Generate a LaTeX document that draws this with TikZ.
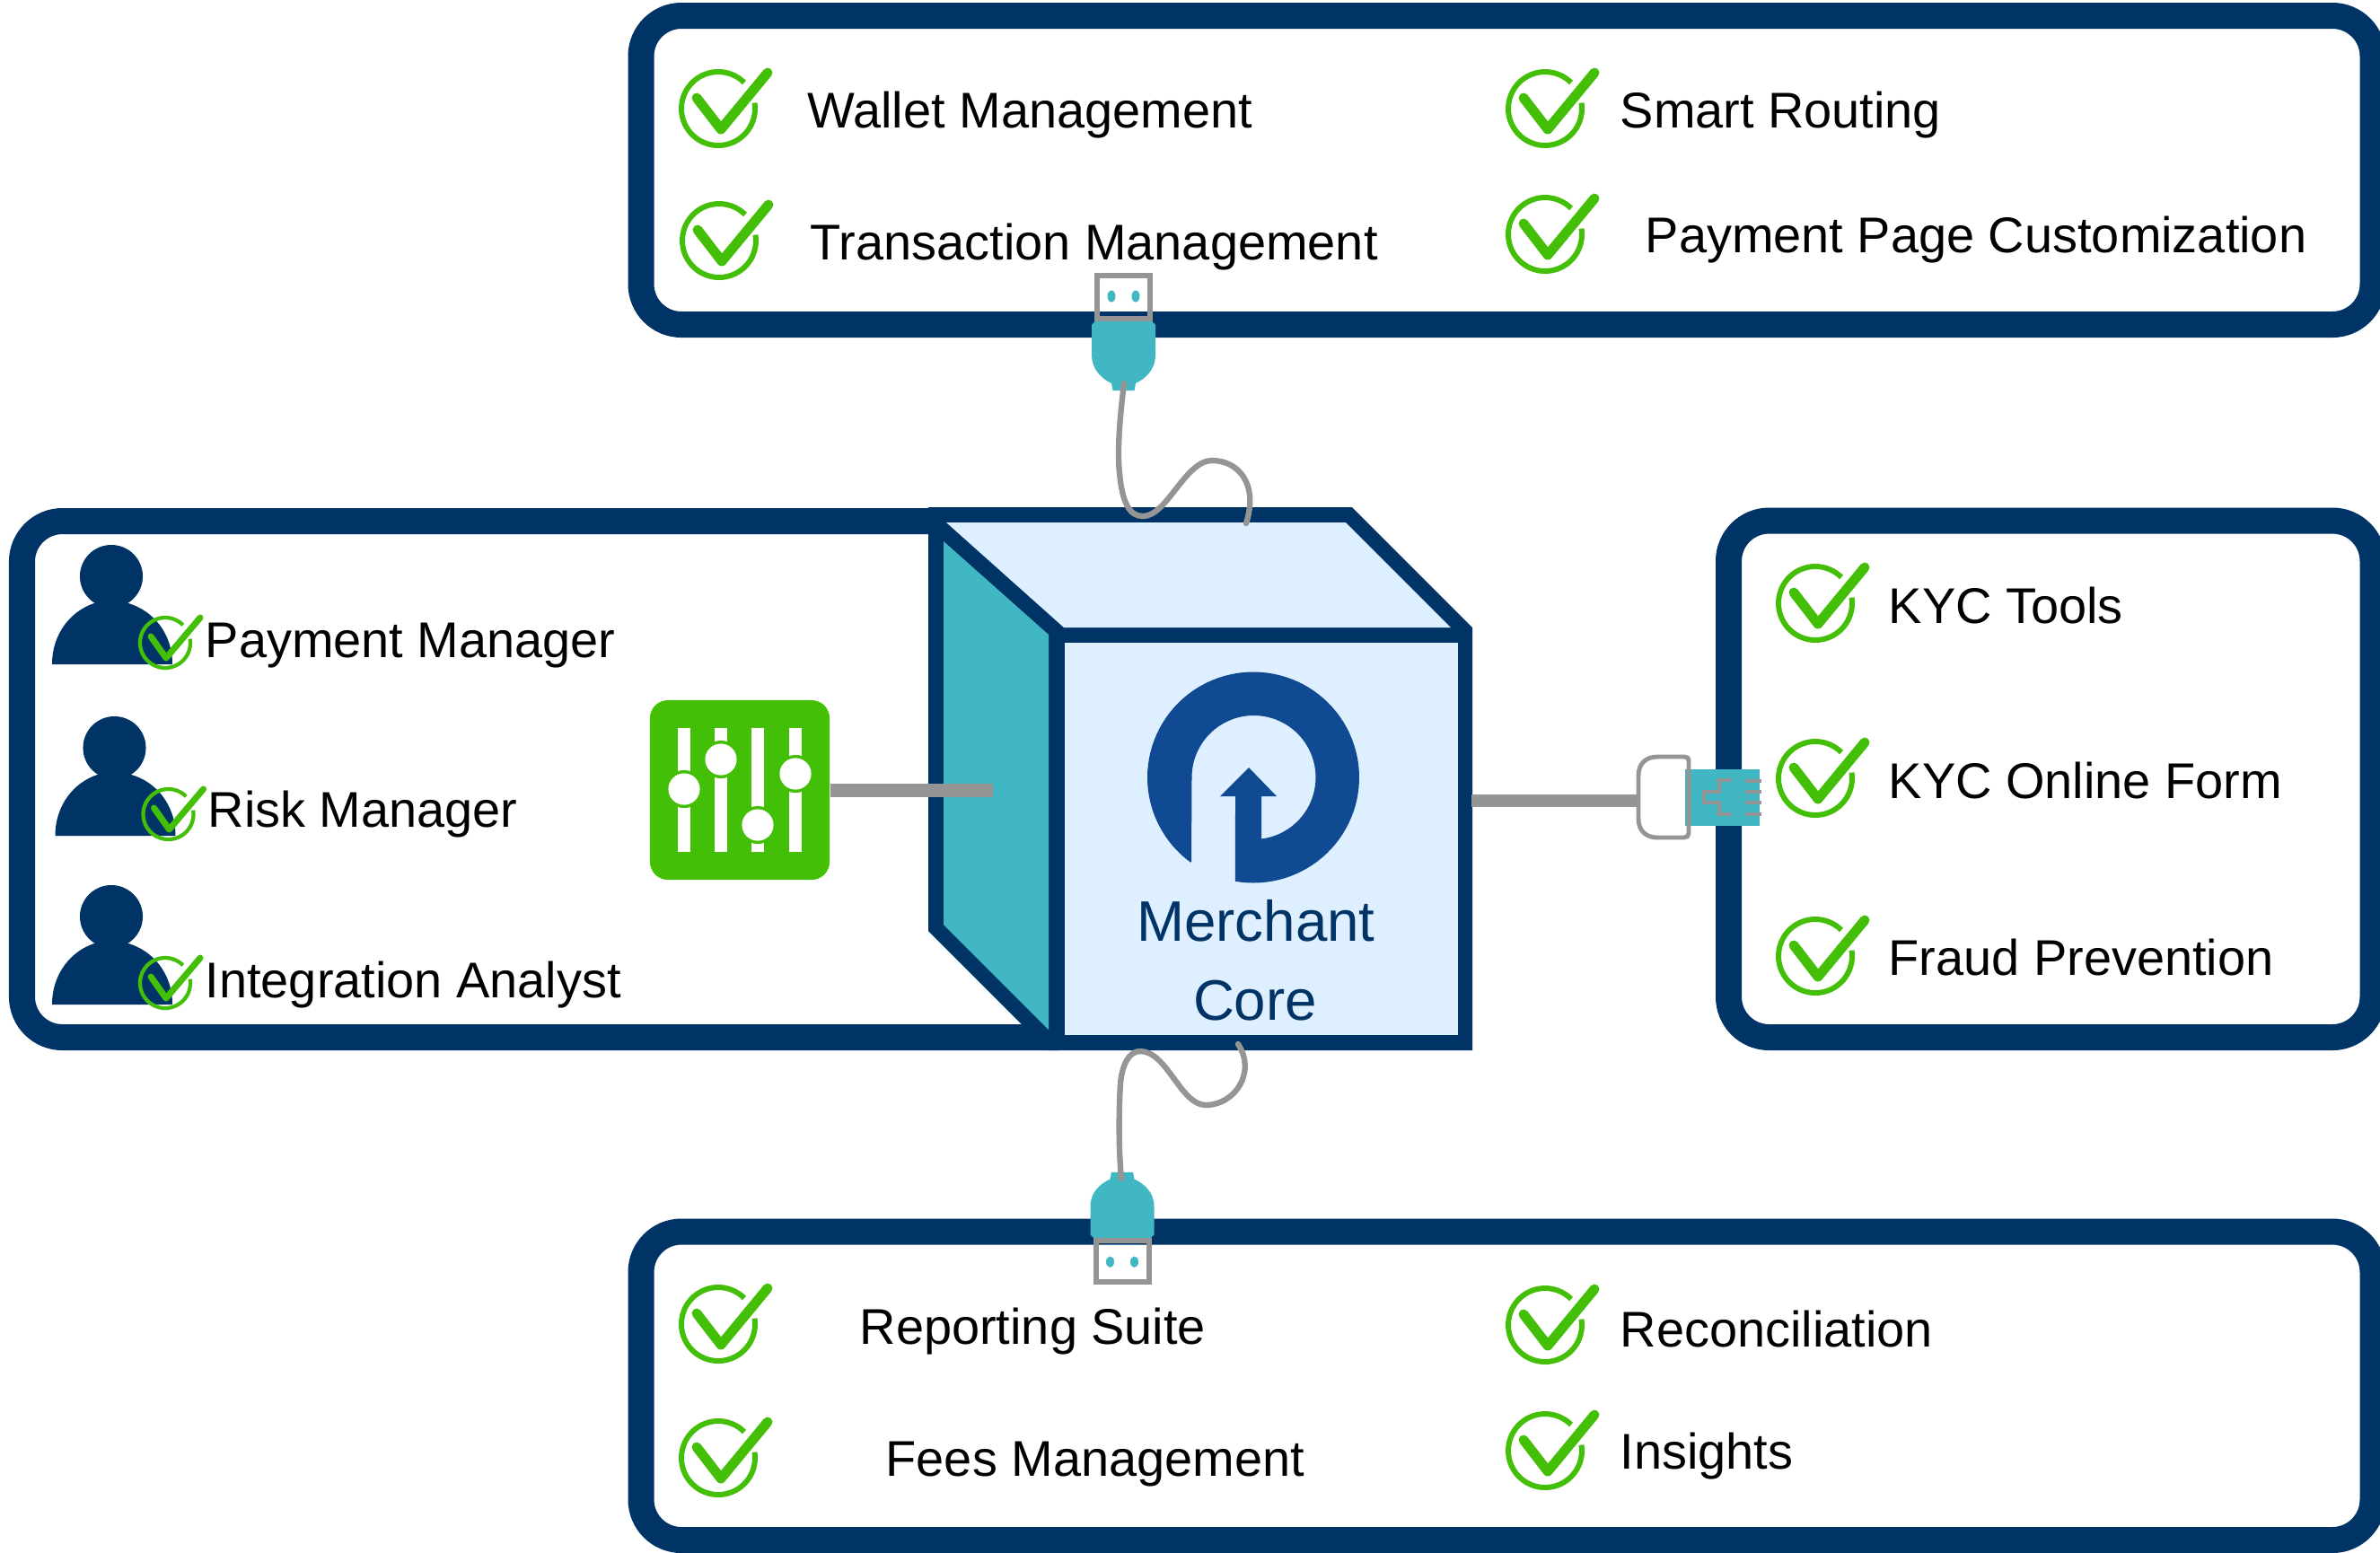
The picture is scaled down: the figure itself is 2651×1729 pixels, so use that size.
\documentclass[tikz,border=0pt]{standalone}
\usepackage{fontspec}
\setmainfont{Liberation Sans}
\definecolor{navy}{HTML}{003366}
\definecolor{logoblue}{HTML}{104A93}
\definecolor{pale}{HTML}{DEEFFF}
\definecolor{teal2}{HTML}{42B7C4}
\definecolor{wire}{HTML}{959595}
\definecolor{okgreen}{HTML}{43BF08}
\tikzset{
  x=0.01cm,y=-0.01cm,
  panel/.style={draw=navy,line width=8.25pt,fill=white,rounded corners=12.8pt},
  label/.style={anchor=base west,inner sep=0pt,font=\fontsize{15.9}{19}\selectfont,text=black},
  corelabel/.style={anchor=base,inner sep=0pt,font=\fontsize{18.1}{22}\selectfont,text=navy},
  bar/.style={draw=wire,line width=4pt},
  cable/.style={draw=wire,line width=1.8pt,line cap=round},
  okbig/.pic={
    \draw[okgreen,line width=1.7pt] plot[domain=-9:315,samples=60,variable=\t] ({41*cos(\t)},{41*sin(\t)});
    \draw[okgreen,line width=3.1pt,line cap=round,line join=round] (-24,-12) -- (3,23) -- (55,-40);
  },
  oksmall/.pic={
    \draw[okgreen,line width=1.2pt] plot[domain=-9:315,samples=60,variable=\t] ({28*cos(\t)},{28*sin(\t)});
    \draw[okgreen,line width=2pt,line cap=round,line join=round] (-16,-7) -- (1,17) -- (39,-28);
  },
  person/.pic={
    \fill[navy] (124,642) circle[radius=9.96pt];
    \fill[navy] (58,740) .. controls (58,705) and (80,680) .. (105,672) -- (143,672) .. controls (170,680) and (192,705) .. (192,740) -- cycle;
    \path (184,716) pic {oksmall};
  },
  usbplug/.pic={
    \fill[teal2] (-29,-1) -- (-35.5,6) -- (-35.5,39) .. controls (-35.5,56) and (-24,66) .. (-13.5,71) -- (-12,79) -- (12,79) -- (13.5,71) .. controls (24,66) and (35.5,56) .. (35.5,39) -- (35.5,6) -- (29,-1) -- cycle;
    \draw[wire,line width=1.7pt,line join=miter] (-29.5,-1.5) rectangle (29.5,-49.5);
    \fill[teal2] (-13.5,-26) ellipse[x radius=1.28pt,y radius=1.85pt];
    \fill[teal2] (13.5,-26) ellipse[x radius=1.28pt,y radius=1.85pt];
  },
}
\begin{document}
\begin{tikzpicture}
\useasboundingbox (0,0) rectangle (2651,1729);
\clip (0,0) rectangle (2651,1729);
\fill[white] (0,0) rectangle (2651,1729);

% panels
\draw[panel] (714,17.5) rectangle (2643,361.5);
\draw[panel] (714,1372) rectangle (2643,1715.5);
\draw[panel] (1925.5,580) rectangle (2643,1155.5);
\draw[panel,fill=white] (1100,580.5) -- (24.5,580.5) -- (24.5,1155.5) -- (1180,1155.5);

% cube
\fill[navy] (1034,565) -- (1506,565) -- (1640,699) -- (1640,1170) -- (1167,1170) -- (1034,1037) -- cycle;
\fill[pale] (1054,582) -- (1499,582) -- (1616,699) -- (1185,699) -- cycle;
\fill[teal2] (1051,603) -- (1168,707) -- (1168,1147) -- (1051,1030) -- cycle;
\fill[pale] (1186,716) rectangle (1624,1153);
\coordinate (cubewest) at (1106,880.5);
\coordinate (cubeeast) at (1639,892);
\coordinate (cubetop) at (1388,583);
\coordinate (cubebottom) at (1379,1163);

% logo
\fill[logoblue] (1327,960)
  -- plot[domain=126.3:459.8,samples=100,variable=\t] ({1396+118*cos(\t)},{866+117.5*sin(\t)})
  -- (1376,887) -- (1359,887) -- (1391,855) -- (1422,887) -- (1405,887) -- (1405,934)
  -- plot[domain=82.5:-180,samples=80,variable=\t] ({1396.5+69*cos(\t)},{866+69*sin(\t)})
  -- cycle;
\node[corelabel] (merchant) at (1399,1048) {Merchant};
\node[corelabel] (core) at (1398,1136) {Core};

% sliders
\node[fill=okgreen,rounded corners=5.7pt,minimum size=56.9pt,inner sep=0pt] (sliders) at (824,880) {};
\foreach \bx/\ky in {762/879,803/846,844/919,886/862}{
  \fill[white] (\bx-7,811) rectangle (\bx+7,949);
  \fill[okgreen] (\bx,\ky) circle[radius=6pt];
  \fill[white] (\bx,\ky) circle[radius=5pt];
}
\draw[bar] (sliders.east |- cubewest) -- (cubewest);

% persons
\path (0,0) pic {person};
\path (3.5,191) pic {person};
\path (0,379) pic {person};

% right plug
\coordinate (plugwest) at (1823,892);
\draw[bar] (cubeeast) -- (plugwest);
\fill[teal2] (1877,857) rectangle (1960,920);
\draw[wire,line width=1.4pt] (1881,848) .. controls (1881,844) and (1879,843) .. (1876,843) -- (1846,843) .. controls (1833,843) and (1825,851) .. (1825,864) -- (1825,912) .. controls (1825,925) and (1833,933) .. (1846,933) -- (1876,933) .. controls (1879,933) and (1881,931) .. (1881,928) -- cycle;
\draw[wire,line width=1.1pt] (1929,869) -- (1915,869) -- (1915,882) -- (1898,882) -- (1898,894) -- (1915,894) -- (1915,907) -- (1929,907);
\foreach \py in {870,882,894,907}{ \draw[wire,line width=1.1pt] (1944,\py) -- (1962,\py); }

% usb plugs and cables
\pic at (1251.5,356) {usbplug};
\pic[yscale=-0.95] at (1250,1381) {usbplug};
\coordinate (usbtop) at (1252,427);
\coordinate (usbbottom) at (1249,1313);
\draw[cable] (usbtop) .. controls (1248,460) and (1244,500) .. (1247,527) .. controls (1250,560) and (1258,575) .. (1273,575) .. controls (1300,575) and (1320,513) .. (1350,513) .. controls (1380,513) and (1402,540) .. (cubetop);
\draw[cable] (usbbottom) .. controls (1246,1280) and (1246,1240) .. (1248,1207) .. controls (1250,1185) and (1258,1171) .. (1270,1171) .. controls (1300,1171) and (1315,1231) .. (1343,1231) .. controls (1375,1231) and (1400,1195) .. (cubebottom);

% checks
\foreach \cx/\cy in {800/121,801/268,1721/121,1721/261,2022/672,2022/867,2022/1065,800/1475,800/1624,1721/1476,1721/1616}{
  \path (\cx,\cy) pic {okbig};
}

% labels
\node[label] (l1) at (899,142) {Wallet Management};
\node[label] (l2) at (1804,142) {Smart Routing};
\node[label] (l3) at (902,289) {Transaction Management};
\node[label] (l4) at (1832,281) {Payment Page Customization};
\node[label] (l5) at (2103,694) {KYC Tools};
\node[label] (l6) at (2103,889) {KYC Online Form};
\node[label] (l7) at (2103,1086) {Fraud Prevention};
\node[label] (l8) at (228,732) {Payment Manager};
\node[label] (l9) at (231,921) {Risk Manager};
\node[label] (l10) at (228,1111) {Integration Analyst};
\node[label] (l11) at (957,1497) {Reporting Suite};
\node[label] (l12) at (986,1644) {Fees Management};
\node[label] (l13) at (1804,1500) {Reconciliation};
\node[label] (l14) at (1804,1636) {Insights};
\end{tikzpicture}
\end{document}
